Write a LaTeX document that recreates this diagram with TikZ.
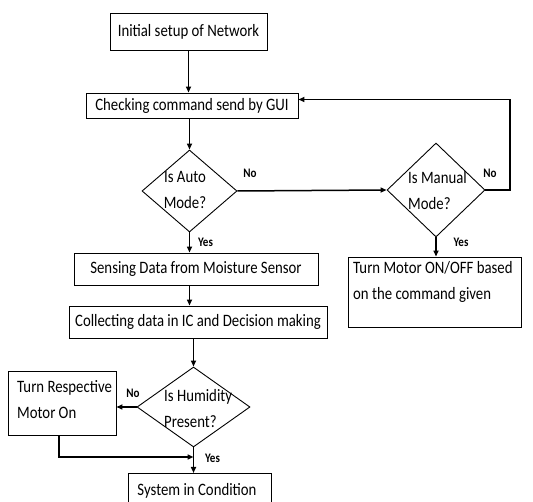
\documentclass[tikz,border=0pt]{standalone}
\usepackage{fontspec}
\setmainfont{Carlito}[FakeStretch=0.85]
\usetikzlibrary{shapes.geometric,arrows.meta}
\tikzset{
  box/.style={draw, line width=0.9pt, inner sep=0pt, font=\fontsize{17.4}{26}\selectfont},
  dia/.style={draw, diamond, line width=0.9pt, inner sep=0pt, aspect=1},
  txt/.style={inner sep=0pt, font=\fontsize{17.4}{26}\selectfont, align=left},
  lbl/.style={inner sep=0pt, font=\bfseries\fontsize{13}{15}\selectfont},
  arr/.style={line width=1.5pt, -{Triangle[length=6pt,width=5pt]}},
  ln/.style={line width=1.5pt}
}
\begin{document}
\begin{tikzpicture}[x=1pt,y=-1pt]
\clip (0,0) rectangle (533,502);
\useasboundingbox (0,0) rectangle (533,502);
% boxes
\node[box, minimum width=157pt, minimum height=37pt] (b1) at (188.5,31.5) {Initial setup of Network};
\node[box, minimum width=212pt, minimum height=25pt] (b2) at (192,105.5) {Checking command send by GUI};
\node[box, minimum width=244pt, minimum height=32pt] (b3) at (196,269) {Sensing Data from Moisture Sensor};
\node[box, minimum width=258pt, minimum height=32pt] (b4) at (198,322) {Collecting data in IC and Decision making};
\node[box, minimum width=143pt, minimum height=60pt, anchor=north] (b5) at (199.5,473) {};
\node[txt, anchor=base] (b5t) at (197,496) {System in Condition};
\node[box, minimum width=173pt, minimum height=70pt] (mb) at (434.5,292) {};
\node[txt, anchor=north west] (mbt) at (353,261) {Turn Motor ON/OFF based\\on the command given};
\node[box, minimum width=108pt, minimum height=64pt] (tr) at (62,403) {};
\node[txt, anchor=north west] (trt) at (17,380) {Turn Respective\\Motor On};
% diamonds
\node[dia, minimum width=95pt, minimum height=82pt] (A) at (189.5,191) {};
\node[txt, align=center] (At) at (185,190) {Is Auto\\Mode?};
\node[dia, minimum width=98pt, minimum height=94pt] (M) at (436,190) {};
\node[txt, anchor=west] (Mt) at (408,191) {Is Manual\\Mode?};
\node[dia, minimum width=113pt, minimum height=80pt] (H) at (193.5,407) {};
\node[txt, anchor=west] (Ht) at (164,409) {Is Humidity\\Present?};
% labels
\node[lbl] (l1) at (250,173) {No};
\node[lbl] (l2) at (490,173) {No};
\node[lbl] (l3) at (205.5,242) {Yes};
\node[lbl] (l4) at (461,242) {Yes};
\node[lbl] (l5) at (133,393) {No};
\node[lbl] (l6) at (212.5,458) {Yes};
% connectors
\draw[arr] (b1.south) -- (b1.south |- b2.north);
\draw[arr] (A.north |- b2.south) -- (A.north);
\draw[arr] (A.east) -- (M.west);
\coordinate (fb1) at (510,190);
\coordinate (fbin) at ([yshift=6pt]b2.east);
\draw[arr] (M.east) -- (fb1) -- (fb1 |- fbin) -- (fbin);
\draw[arr] (M.south) -- (M.south |- mb.north);
\draw[arr] (A.south) -- (A.south |- b3.north);
\draw[arr] (A.south |- b3.south) -- (A.south |- b4.north);
\draw[arr] (H.north |- b4.south) -- (H.north);
\draw[arr] (H.west) -- (H.west -| tr.east);
\coordinate (mg) at (193.5,457);
\coordinate (trb) at ([xshift=-3pt]tr.south);
\draw[arr] (trb) -- (trb |- mg) -- (mg);
\draw[arr] (H.south) -- (H.south |- b5.north);
\end{tikzpicture}
\end{document}
